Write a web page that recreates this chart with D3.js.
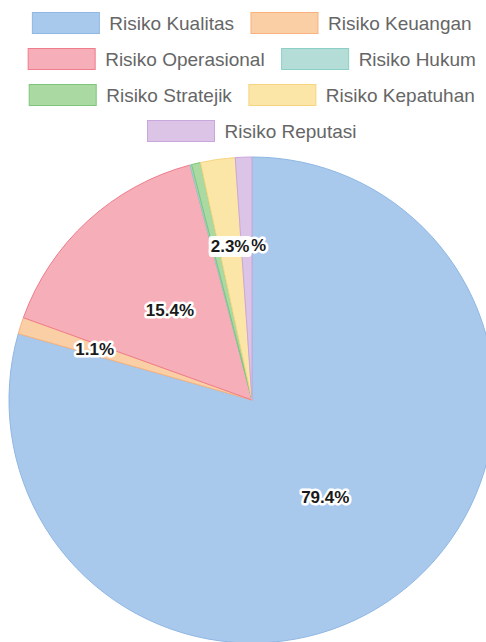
<!DOCTYPE html>
<html><head><meta charset="utf-8">
<script src="https://cdn.jsdelivr.net/npm/d3@7"></script>
<style>
html,body{margin:0;padding:0;background:#fff;overflow:hidden;}
svg{display:block;}
</style></head>
<body>
<svg id="chart" width="486" height="642"></svg>
<script>
const categories = ["Risiko Kualitas","Risiko Keuangan","Risiko Operasional","Risiko Hukum","Risiko Stratejik","Risiko Kepatuhan","Risiko Reputasi"];
const values = [79.4, 1.1, 15.4, 0.1, 0.6, 2.3, 1.1];
const labelTexts = ["79.4%","1.1%","15.4%","","","2.3%","1.1%"];

const fills = ["#a9c9ec","#fbcfa6","#f6aeb8","#b4ddd8","#abd9a2","#fbe6a8","#dcc4e6"];
const strokes = ["#8fb7e4","#f7b27d","#ef7d8c","#8ccfc6","#7cc57a","#f6d581","#c9a7dc"];

// label distance from centre as fraction of radius (angle = slice mid-angle)
const labelRadius = [0.5, 0.68, 0.5, null, null, 0.64, 0.64];

const W = 486, H = 642;
const cx = 252, cy = 400, R = 243;
const svg = d3.select("#chart");

// Legend
const legendFont = 19, boxW = 67, boxH = 21, boxGap = 10, itemGap = 17, rowH = 36, row0 = 23, maxRow = 468;
const legend = svg.append("g");
const items = categories.map((c,i)=>{
  const g = legend.append("g");
  g.append("rect").attr("width",boxW).attr("height",boxH).attr("y",-boxH/2)
    .attr("fill",fills[i]).attr("stroke",strokes[i]).attr("stroke-width",1);
  const t = g.append("text").attr("x",boxW+boxGap).attr("dy","0.35em")
    .attr("font-family","Liberation Sans, Arial, sans-serif").attr("font-size",legendFont)
    .attr("fill","#666").text(c);
  const w = boxW + boxGap + t.node().getComputedTextLength();
  return {g,w};
});
const rows = [];
let cur = [], curW = 0;
items.forEach(it=>{
  const add = cur.length ? itemGap + it.w : it.w;
  if (cur.length && curW + add > maxRow) { rows.push({items:cur,w:curW}); cur=[it]; curW=it.w; }
  else { cur.push(it); curW += add; }
});
if (cur.length) rows.push({items:cur,w:curW});
rows.forEach((r,ri)=>{
  let x = cx - r.w/2;
  r.items.forEach(it=>{
    it.g.attr("transform",`translate(${x},${row0 + ri*rowH})`);
    x += it.w + itemGap;
  });
});

// Pie
const pie = d3.pie().sort(null).value(d=>d)(values);
const arc = d3.arc().innerRadius(0).outerRadius(R);
const gp = svg.append("g").attr("transform",`translate(${cx},${cy})`);
gp.selectAll("path").data(pie).join("path")
  .attr("d",arc)
  .attr("fill",(d,i)=>fills[i])
  .attr("stroke",(d,i)=>strokes[i])
  .attr("stroke-width",1);

// Labels (Reputasi drawn first so Kepatuhan's box sits on top of it)
const order = [0,1,2,6,5];
const gl = svg.append("g").attr("transform",`translate(${cx},${cy})`);
order.forEach(i=>{
  const p = pie[i];
  const a = (p.startAngle + p.endAngle)/2, d = labelRadius[i]*R;
  const x = d*Math.sin(a), y = -d*Math.cos(a);
  const g = gl.append("g").attr("transform",`translate(${x},${y})`);
  const t = g.append("text").attr("dy","0.35em")
    .attr("text-anchor","middle")
    .attr("font-family","Liberation Sans, Arial, sans-serif")
    .attr("font-weight","bold").attr("font-size",17)
    .attr("fill","#1a1a1a").attr("stroke","#fff").attr("stroke-width",5)
    .attr("stroke-linejoin","round").attr("paint-order","stroke")
    .text(labelTexts[i]);
  if (i === 5) {
    const b = t.node().getBBox();
    g.insert("rect","text").attr("x",b.x-2).attr("y",b.y-1)
      .attr("width",b.width+4).attr("height",b.height+2)
      .attr("rx",3).attr("fill","#fff").attr("opacity",0.92);
  }
});
</script>
</body></html>
